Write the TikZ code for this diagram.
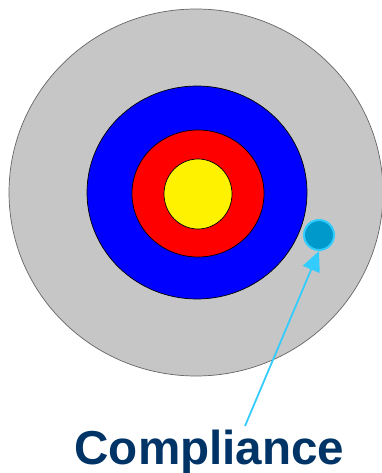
\documentclass[tikz,border=0pt]{standalone}
\usepackage{fontspec}
\setmainfont{Liberation Sans}
\usetikzlibrary{shapes.geometric,arrows.meta}
\definecolor{ringgray}{HTML}{C6C6C6}
\definecolor{dotfill}{HTML}{0099CC}
\definecolor{dotedge}{HTML}{33CCFF}
\definecolor{navy}{HTML}{003366}
\tikzset{
  ring/.style={ellipse, inner sep=0pt, draw=black, line width=0.7pt},
  pointer/.style={draw=dotedge, line width=1.8pt, -{Triangle[length=20pt,width=18pt]}},
}
\begin{document}
\begin{tikzpicture}[x=1pt,y=-1pt]
\useasboundingbox (0,0) rectangle (382,473);
\node[ring, draw=black!60, fill=ringgray, minimum width=374pt, minimum height=367pt] (outer) at (196,192.5) {};
\node[ring, fill=blue, minimum width=220pt, minimum height=213pt] (blue) at (197,192.5) {};
\node[ring, fill=red, minimum width=132pt, minimum height=127pt] (red) at (198,193.5) {};
\node[ring, fill=yellow, minimum width=68pt, minimum height=70pt] (yellow) at (198,194) {};
\node[circle, inner sep=0pt, minimum size=30pt, fill=dotfill, draw=dotedge, line width=2pt] (dot) at (319,235) {};
\node[text=navy, font=\bfseries\fontsize{47.6}{50}\selectfont, anchor=base, inner sep=0pt] (label) at (209.5,464) {Compliance};
\coordinate (tail) at (245,426);
\draw[pointer] (tail) -- (dot.south);
\end{tikzpicture}
\end{document}
